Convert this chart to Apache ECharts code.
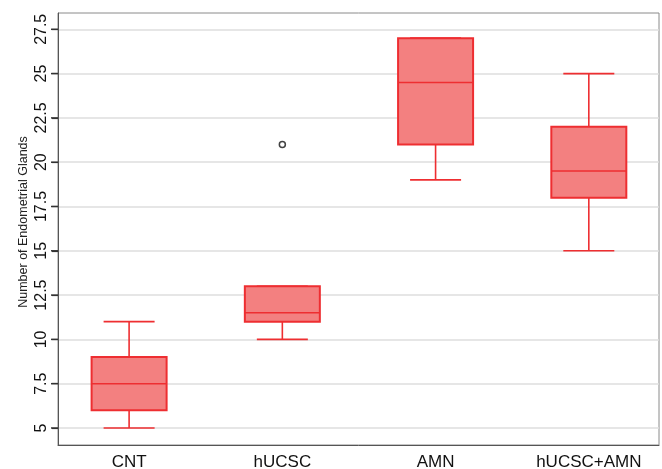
<!DOCTYPE html>
<html>
<head>
<meta charset="utf-8">
<script src="https://cdn.jsdelivr.net/npm/echarts@6/dist/echarts.min.js"></script>
<style>
  html, body { margin: 0; padding: 0; background: #fff; }
  #main { width: 662px; height: 469px; }
</style>
</head>
<body>
<div id="main"></div>
<script>
// groups and five-number summaries
var groupNames = ['CNT', 'hUCSC', 'AMN', 'hUCSC+AMN'];
var whiskerLow = [5, 10, 19, 15];
var boxLow = [6, 11, 21, 18];
var medians = [7.5, 11.5, 24.5, 19.5];
var boxHigh = [9, 13, 27, 22];
var whiskerHigh = [11, 13, 27, 25];
// outliers: group position (1-based) and value
var outlierGroup = [2];
var outlierValue = [21];
var yTicks = [5, 7.5, 10, 12.5, 15, 17.5, 20, 22.5, 25, 27.5];

var X_MIN = 0.536, X_MAX = 4.458;
var RED = '#ee2e31';
var FILL = '#f38080';

var boxData = groupNames.map(function (n, i) {
  return [i + 1, whiskerLow[i], boxLow[i], medians[i], boxHigh[i], whiskerHigh[i]];
});
var outlierData = outlierGroup.map(function (g, i) {
  return [g, outlierValue[i]];
});
var tickData = yTicks.map(function (v) { return [X_MIN, v]; });

function renderBox(params, api) {
  var x = api.value(0);
  var lo = api.coord([x, api.value(1)]);
  var b1 = api.coord([x, api.value(2)]);
  var md = api.coord([x, api.value(3)]);
  var b3 = api.coord([x, api.value(4)]);
  var hi = api.coord([x, api.value(5)]);
  var half = 37.5, cap = 25.5, cx = lo[0];
  var ls = { stroke: RED, lineWidth: 1.6 };
  return {
    type: 'group',
    children: [
      { type: 'line', shape: { x1: cx, y1: lo[1], x2: cx, y2: b1[1] }, style: ls },
      { type: 'line', shape: { x1: cx, y1: hi[1], x2: cx, y2: b3[1] }, style: ls },
      { type: 'line', shape: { x1: cx - cap, y1: lo[1], x2: cx + cap, y2: lo[1] }, style: ls },
      { type: 'line', shape: { x1: cx - cap, y1: hi[1], x2: cx + cap, y2: hi[1] }, style: ls },
      { type: 'rect', shape: { x: cx - half, y: b3[1], width: half * 2, height: b1[1] - b3[1] },
        style: { fill: FILL, stroke: RED, lineWidth: 2 } },
      { type: 'line', shape: { x1: cx - half, y1: md[1], x2: cx + half, y2: md[1] }, style: ls }
    ]
  };
}

// y-axis tick marks (outside the left edge)
function renderTick(params, api) {
  var p = api.coord([api.value(0), api.value(1)]);
  return {
    type: 'rect',
    shape: { x: p[0] - 7, y: p[1] - 0.75, width: 7, height: 1.5 },
    style: { fill: '#333' }
  };
}

var chart = echarts.init(document.getElementById('main'));
chart.setOption({
  animation: false,
  textStyle: { fontFamily: 'Liberation Sans, Arial, sans-serif' },
  grid: {
    left: 58, right: 3, top: 13, bottom: 24,
    outerBoundsMode: 'none',
    containLabel: false,
    show: true, borderColor: '#8a8a8a', borderWidth: 1
  },
  xAxis: {
    type: 'value',
    min: X_MIN,
    max: X_MAX,
    axisLine: { show: true, onZero: false, lineStyle: { color: '#555', width: 1 } },
    axisTick: { show: false },
    splitLine: { show: false },
    axisLabel: {
      customValues: groupNames.map(function (n, i) { return i + 1; }),
      formatter: function (v) { return groupNames[Math.round(v) - 1]; },
      color: '#111',
      fontSize: 17,
      margin: 9
    }
  },
  yAxis: {
    type: 'value',
    min: 4.04,
    max: 28.42,
    name: 'Number of Endometrial Glands',
    nameLocation: 'middle',
    nameGap: 28,
    nameMoveOverlap: false,
    nameTextStyle: { fontSize: 12.5, color: '#222', padding: [0, 0, 0, 14] },
    axisLine: { show: true, onZero: false, lineStyle: { color: '#555', width: 1 } },
    axisTick: { show: true, customValues: yTicks, length: 6, lineStyle: { color: '#333', width: 1.2 } },
    splitLine: { show: true, lineStyle: { color: '#dedede', width: 1.5 } },
    axisLabel: {
      customValues: yTicks,
      rotate: 90,
      color: '#111',
      fontSize: 16,
      margin: 8
    }
  },
  series: [
    {
      type: 'custom',
      renderItem: renderTick,
      clip: false,
      silent: true,
      z: 10,
      encode: { x: 0, y: 1 },
      data: tickData
    },
    {
      type: 'custom',
      renderItem: renderBox,
      encode: { x: 0, y: [1, 2, 3, 4, 5] },
      data: boxData
    },
    {
      type: 'scatter',
      symbol: 'circle',
      symbolSize: 6,
      itemStyle: { color: '#fff', borderColor: '#111', borderWidth: 1.5 },
      data: outlierData
    }
  ]
});
</script>
</body>
</html>
